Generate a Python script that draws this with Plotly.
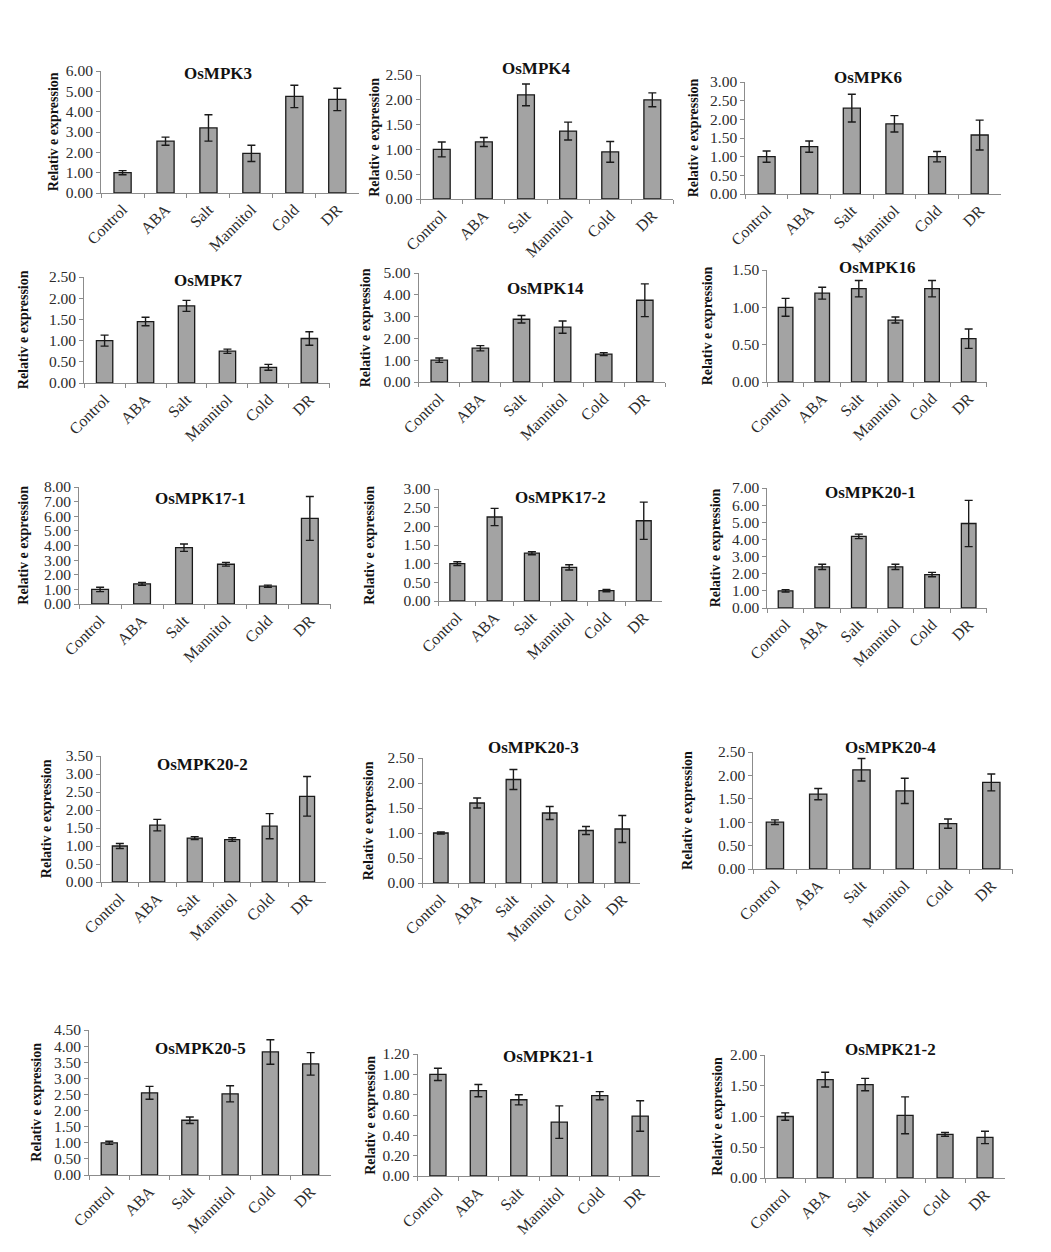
import plotly.graph_objects as go

W, H = 1051, 1252

categories = ["Control", "ABA", "Salt", "Mannitol", "Cold", "DR"]

genes = ["OsMPK3", "OsMPK4", "OsMPK6", "OsMPK7", "OsMPK14", "OsMPK16",
         "OsMPK17-1", "OsMPK17-2", "OsMPK20-1", "OsMPK20-2", "OsMPK20-3",
         "OsMPK20-4", "OsMPK20-5", "OsMPK21-1", "OsMPK21-2"]

mpk3_vals = [1.00, 2.55, 3.20, 1.95, 4.75, 4.60]
mpk3_err = [0.10, 0.20, 0.65, 0.40, 0.55, 0.55]
mpk4_vals = [1.00, 1.15, 2.10, 1.37, 0.95, 2.00]
mpk4_err = [0.15, 0.09, 0.22, 0.18, 0.21, 0.14]
mpk6_vals = [1.00, 1.27, 2.30, 1.88, 1.00, 1.58]
mpk6_err = [0.15, 0.15, 0.37, 0.22, 0.14, 0.40]
mpk7_vals = [1.00, 1.45, 1.82, 0.75, 0.37, 1.05]
mpk7_err = [0.13, 0.10, 0.13, 0.05, 0.07, 0.16]
mpk14_vals = [1.00, 1.55, 2.88, 2.52, 1.28, 3.75]
mpk14_err = [0.10, 0.12, 0.17, 0.28, 0.07, 0.75]
mpk16_vals = [1.00, 1.19, 1.25, 0.83, 1.25, 0.58]
mpk16_err = [0.12, 0.08, 0.11, 0.04, 0.11, 0.13]
mpk17_1_vals = [1.00, 1.38, 3.85, 2.72, 1.22, 5.85]
mpk17_1_err = [0.15, 0.10, 0.25, 0.13, 0.07, 1.50]
mpk17_2_vals = [1.00, 2.25, 1.28, 0.90, 0.28, 2.15]
mpk17_2_err = [0.05, 0.23, 0.04, 0.07, 0.03, 0.50]
mpk20_1_vals = [1.00, 2.40, 4.18, 2.40, 1.95, 4.93]
mpk20_1_err = [0.07, 0.15, 0.13, 0.15, 0.13, 1.35]
mpk20_2_vals = [1.00, 1.58, 1.22, 1.18, 1.55, 2.38]
mpk20_2_err = [0.07, 0.16, 0.04, 0.05, 0.35, 0.55]
mpk20_3_vals = [1.00, 1.60, 2.07, 1.40, 1.05, 1.08]
mpk20_3_err = [0.02, 0.10, 0.20, 0.13, 0.08, 0.27]
mpk20_4_vals = [1.00, 1.60, 2.12, 1.67, 0.97, 1.85]
mpk20_4_err = [0.05, 0.12, 0.24, 0.27, 0.10, 0.18]
mpk20_5_vals = [1.00, 2.55, 1.70, 2.52, 3.82, 3.45]
mpk20_5_err = [0.05, 0.20, 0.10, 0.25, 0.38, 0.35]
mpk21_1_vals = [1.00, 0.84, 0.75, 0.53, 0.79, 0.59]
mpk21_1_err = [0.06, 0.06, 0.05, 0.16, 0.04, 0.15]
mpk21_2_vals = [1.00, 1.60, 1.52, 1.02, 0.71, 0.66]
mpk21_2_err = [0.06, 0.12, 0.10, 0.30, 0.03, 0.10]

all_vals = [mpk3_vals, mpk4_vals, mpk6_vals, mpk7_vals, mpk14_vals, mpk16_vals,
            mpk17_1_vals, mpk17_2_vals, mpk20_1_vals, mpk20_2_vals, mpk20_3_vals,
            mpk20_4_vals, mpk20_5_vals, mpk21_1_vals, mpk21_2_vals]
all_errs = [mpk3_err, mpk4_err, mpk6_err, mpk7_err, mpk14_err, mpk16_err,
            mpk17_1_err, mpk17_2_err, mpk20_1_err, mpk20_2_err, mpk20_3_err,
            mpk20_4_err, mpk20_5_err, mpk21_1_err, mpk21_2_err]

y_max = [6, 2.5, 3, 2.5, 5, 1.5, 8, 3, 7, 3.5, 2.5, 2.5, 4.5, 1.2, 2]
y_step = [1, 0.5, 0.5, 0.5, 1, 0.5, 1, 0.5, 1, 0.5, 0.5, 0.5, 0.5, 0.2, 0.5]

y_title = "Relativ e expression"

# layout (target pixels): plot left, right, top, bottom
boxes = [
    (100, 358, 71, 193), (420, 673, 75, 199), (745, 1001, 82, 194),
    (83, 329, 277, 383), (418, 665, 273, 382), (767, 987, 270, 382),
    (78, 330, 487, 604), (438, 662, 489, 601), (767, 987, 488, 608),
    (100, 325, 756, 882), (422, 640, 758, 883), (753, 1013, 752, 869),
    (88, 330, 1030, 1175), (417, 660, 1054, 1176), (765, 1005, 1055, 1178),
]
title_pos = [
    (217, 73), (535, 68), (868, 77), (207, 280), (545, 288), (877, 267),
    (200, 498), (560, 497), (870, 492), (202, 764), (533, 747), (890, 747),
    (200, 1048), (548, 1056), (890, 1049),
]
ytitle_x = [52, 373, 693, 22, 365, 707, 22, 368, 715, 45, 368, 687, 35, 369, 717]


# empirical correction between layout pixels and the photographed page
def fx(x):
    return (x - 18.8) / 0.9822 / W


def fy(y):
    return 1 - (y - 9.0) / 0.9864 / H


serif = "Liberation Serif, Times New Roman, serif"
fig = go.Figure()
layout = dict(width=W, height=H, margin=dict(l=0, r=0, t=0, b=0),
              paper_bgcolor="white", plot_bgcolor="white", showlegend=False)
annotations = []

for i in range(15):
    k = "" if i == 0 else str(i + 1)
    l, r, t, b = boxes[i]
    fig.add_trace(go.Bar(
        x=categories, y=all_vals[i], xaxis="x" + k, yaxis="y" + k,
        marker=dict(color="#a3a3a3", line=dict(color="#1a1a1a", width=1.3)),
        width=0.4,
        error_y=dict(type="data", array=all_errs[i], visible=True,
                     color="#1a1a1a", thickness=1.4, width=4),
    ))
    layout["xaxis" + k] = dict(
        domain=[max(0, fx(l)), min(1, fx(r))], anchor="y" + k, showline=True,
        linecolor="#8c8c8c", linewidth=1, ticks="outside", tickson="boundaries",
        ticklen=4, tickcolor="#8c8c8c", tickangle=-45, showgrid=False,
        tickfont=dict(family=serif, size=16, color="#2b2b2b"),
        range=[-0.5, 5.5], fixedrange=True)
    layout["yaxis" + k] = dict(
        domain=[fy(b), fy(t)], anchor="x" + k, showline=True,
        linecolor="#8c8c8c", linewidth=1, ticks="outside", ticklen=4,
        tickcolor="#8c8c8c", showgrid=False, zeroline=False,
        range=[0, y_max[i]], dtick=y_step[i], tick0=0, tickformat=".2f",
        tickfont=dict(family=serif, size=15.5, color="#2b2b2b"),
        fixedrange=True)
    tx, ty = title_pos[i]
    annotations.append(dict(
        text="<b>%s</b>" % genes[i], x=fx(tx), y=fy(ty), xref="paper",
        yref="paper", showarrow=False, xanchor="center", yanchor="middle",
        font=dict(family=serif, size=17, color="#111111")))
    annotations.append(dict(
        text="<b>%s</b>" % y_title, x=fx(ytitle_x[i]), y=fy((t + b) / 2),
        xref="paper", yref="paper", showarrow=False, textangle=-90,
        xanchor="center", yanchor="middle",
        font=dict(family=serif, size=14, color="#111111")))

layout["annotations"] = annotations
fig.update_layout(**layout)
fig.write_html("out.html", config={"displayModeBar": False},
               post_script="document.body.style.margin='0';"
                           "document.body.style.overflow='hidden';")
